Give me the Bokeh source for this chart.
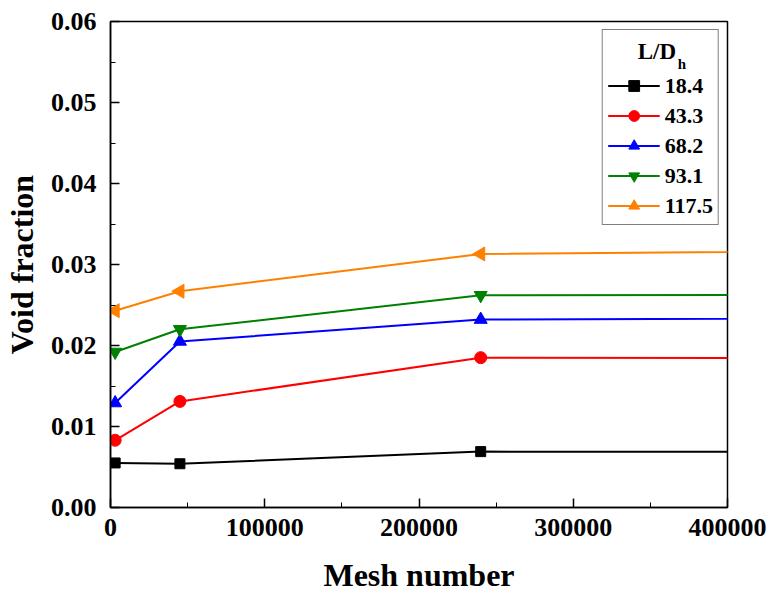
from bokeh.plotting import figure
from bokeh.models import (Range1d, Legend, LegendItem, Label,
                          SingleIntervalTicker, NumeralTickFormatter, BasicTickFormatter)
from bokeh.embed import file_html
from bokeh.resources import INLINE
import math

# ---- data ----
mesh = [3000, 45000, 240000, 800000]
series_names = ["18.4", "43.3", "68.2", "93.1", "117.5"]
vf_18_4 = [0.0055, 0.0054, 0.0069, 0.0068]
vf_43_3 = [0.0083, 0.0131, 0.0185, 0.0184]
vf_68_2 = [0.0129, 0.0205, 0.0232, 0.0236]
vf_93_1 = [0.0192, 0.0220, 0.0262, 0.0263]
vf_117_5 = [0.0243, 0.0267, 0.0313, 0.0321]
series_values = [vf_18_4, vf_43_3, vf_68_2, vf_93_1, vf_117_5]
colors = ["#000000", "#FF0000", "#0000FF", "#008000", "#FF8000"]
markers = ["square", "circle", "triangle", "inverted_triangle", "triangle"]
angles = [0.0, 0.0, 0.0, 0.0, math.pi / 2]
sizes = [10, 12, 13, 13, 14]

FONT = "Liberation Serif"

p = figure(width=768, height=595, output_backend="svg", toolbar_location=None,
           x_range=Range1d(0, 400000), y_range=Range1d(0, 0.06),
           min_border_left=107, min_border_right=41, min_border_top=21, min_border_bottom=88)
p.grid.visible = False
p.outline_line_color = "black"
p.outline_line_width = 1.5
p.background_fill_color = "white"
p.border_fill_color = "white"

# axes
xa = p.xaxis[0]
xa.ticker = SingleIntervalTicker(interval=100000, num_minor_ticks=2)
xa.formatter = BasicTickFormatter(use_scientific=False)
ya = p.yaxis[0]
ya.ticker = SingleIntervalTicker(interval=0.01, num_minor_ticks=2)
ya.formatter = NumeralTickFormatter(format="0.00")
for ax in (xa, ya):
    ax.axis_line_width = 1.5
    ax.axis_line_color = "black"
    ax.major_tick_in = 9
    ax.major_tick_out = 0
    ax.minor_tick_in = 5
    ax.minor_tick_out = 0
    ax.major_tick_line_width = 1.5
    ax.minor_tick_line_width = 1
    ax.major_label_text_font = FONT
    ax.major_label_text_font_style = "bold"
    ax.major_label_text_font_size = "26px"
    ax.major_label_text_color = "black"
    ax.axis_label_text_font = FONT
    ax.axis_label_text_font_style = "bold"
    ax.axis_label_text_font_size = "32px"
    ax.axis_label_text_color = "black"
xa.axis_label = "Mesh number"
ya.axis_label = "Void fraction"
xa.major_label_standoff = 11
ya.major_label_standoff = 14
xa.axis_label_standoff = 18
ya.axis_label_standoff = 8

items = []
for name, vals, c, m, a, s in zip(series_names, series_values, colors, markers, angles, sizes):
    ln = p.line(mesh, vals, line_color=c, line_width=2)
    sc = p.scatter(mesh, vals, marker=m, size=s, angle=a, color=c)
    items.append(LegendItem(label=name, renderers=[ln, sc]))

legend = Legend(items=items, location="top_right", margin=8,
                title="L/D", title_text_alpha=0, title_text_font_size="20px",
                title_standoff=14,
                label_text_font=FONT, label_text_font_style="bold",
                label_text_font_size="22px", label_text_color="black",
                glyph_width=52, glyph_height=27, label_height=27, spacing=3,
                label_standoff=5, padding=5,
                border_line_color="black", border_line_width=1.2,
                background_fill_alpha=0)
p.add_layout(legend)

# legend title with subscript, placed in the legend's top area
p.add_layout(Label(x=354200, y=0.0563, text="L/D", text_font=FONT, text_font_style="bold",
                   text_font_size="23px", text_align="center", text_baseline="middle",
                   text_color="black", level="overlay"))
p.add_layout(Label(x=370500, y=0.0547, text="h", text_font=FONT, text_font_style="bold",
                   text_font_size="15px", text_align="center", text_baseline="middle",
                   text_color="black", level="overlay"))

open("out.html", "w").write(file_html(p, INLINE))
